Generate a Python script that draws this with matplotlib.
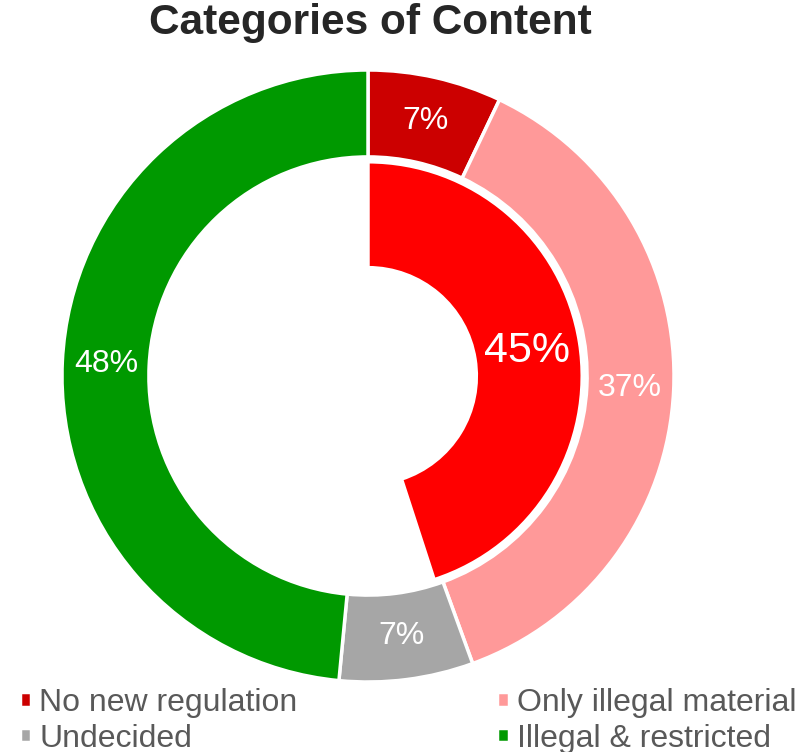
import matplotlib.pyplot as plt

plt.rcParams['font.family'] = ['Liberation Sans', 'DejaVu Sans']

# Share of responses per category (outer ring) and the combined "red" share (inner ring)
categories = ['No new regulation', 'Only illegal material', 'Undecided', 'Illegal & restricted']
outer_values = [7, 37, 7, 48]
outer_colors = ['#CC0000', '#FF9999', '#A6A6A6', '#009900']
inner_values = [45, 55]
inner_colors = ['#FF0000', 'none']

fig = plt.figure(figsize=(8, 7.52), dpi=100)
ax = fig.add_axes([62 / 800, 70 / 752, 612 / 800, 612 / 752])

outer, _, outer_txt = ax.pie(outer_values, colors=outer_colors, startangle=90, counterclock=False,
                             radius=1.0, autopct='%.0f%%', pctdistance=0.855,
                             wedgeprops=dict(width=0.284, edgecolor='white', linewidth=2.5),
                             textprops=dict(color='white', fontsize=23))

inner, _, inner_txt = ax.pie(inner_values, colors=inner_colors, startangle=90, counterclock=False,
                             radius=0.70, autopct='%.0f%%', pctdistance=0.75,
                             wedgeprops=dict(width=0.346, edgecolor='white', linewidth=2.5),
                             textprops=dict(color='white', fontsize=31))
inner[1].set_edgecolor('none')
inner_txt[1].set_text('')

ax.set_xlim(-1, 1)
ax.set_ylim(-1, 1)
ax.set_aspect('equal')
ax.axis('off')

fig.text(0.463, 1 - 23 / 752, 'Categories of Content', ha='center', va='center',
         fontsize=30.5, fontweight='bold', color='#262626')

# legend fills column by column, so order the handles to read row by row
order = [0, 2, 1, 3]
fig.legend([outer[i] for i in order], [categories[i] for i in order], ncol=2,
           loc='lower left', bbox_to_anchor=(0.009, -0.019),
           frameon=False, fontsize=23, handlelength=0.36, handleheight=0.33,
           handletextpad=0.25, columnspacing=6.25, labelspacing=0.18, labelcolor='#595959',
           borderaxespad=0)

fig.savefig('out.png', dpi=100, facecolor='white')
